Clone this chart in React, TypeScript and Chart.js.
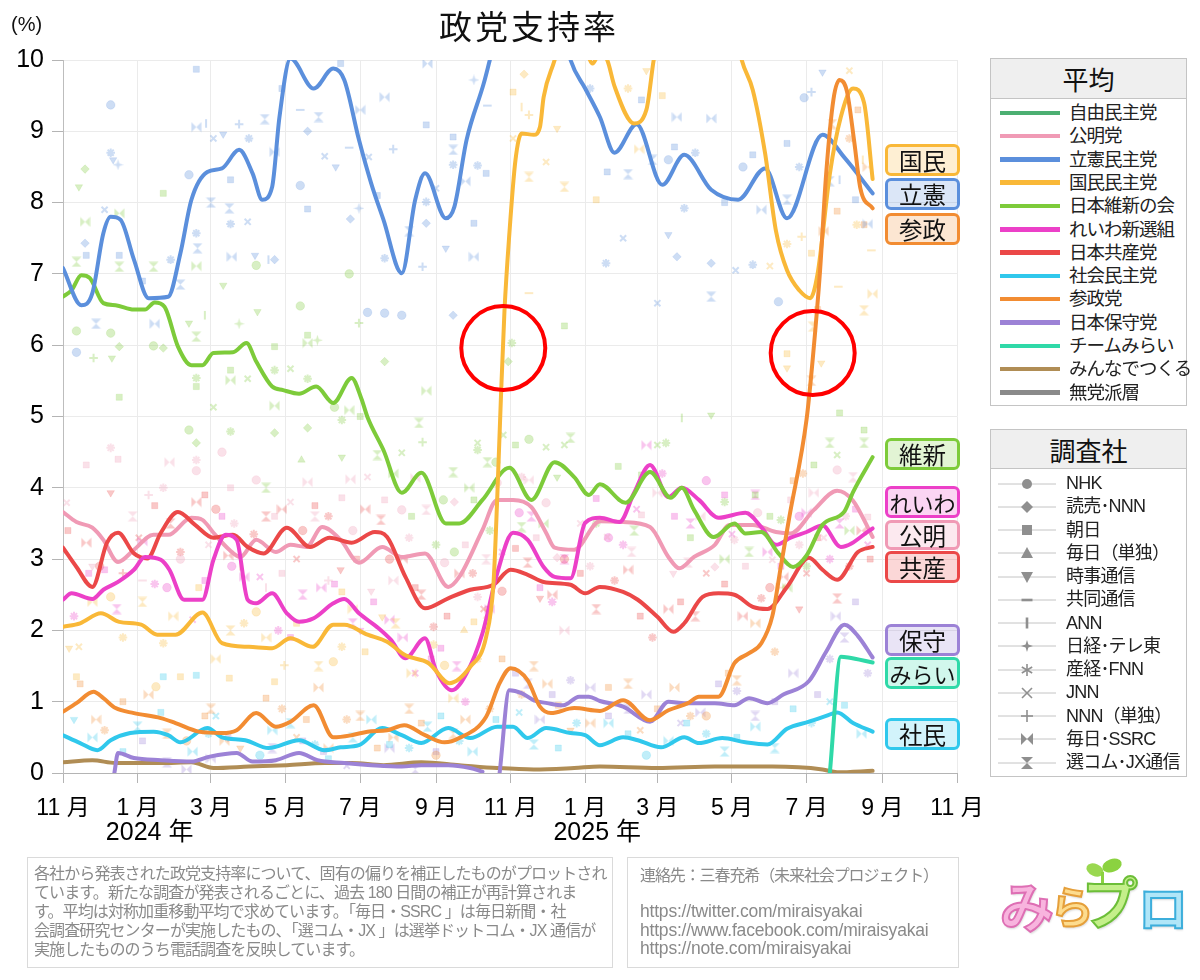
import React, { useEffect, useRef } from "react";
import { Chart, registerables } from "chart.js";

Chart.register(...registerables);

type Pt = [string, number | null];
type Poll = [string, number, number];

const FONT = '"Liberation Sans", "Noto Sans CJK JP", sans-serif';

// ---------- axis ----------
const X_START = "2023-11-01";
const X_END = "2025-11-01";
const tickDates = ["2023-11-01", "2024-01-01", "2024-03-01", "2024-05-01", "2024-07-01", "2024-09-01", "2024-11-01", "2025-01-01", "2025-03-01", "2025-05-01", "2025-07-01", "2025-09-01", "2025-11-01"];
const yearTickDates = ["2024-01-01", "2025-01-01"];
const yearTickText = ["2024 年", "2025 年"];
const Y_MIN = 0;
const Y_MAX = 10;

// ---------- parties ----------
const partyNames = ["自由民主党", "公明党", "立憲民主党", "国民民主党", "日本維新の会", "れいわ新選組", "日本共産党", "社会民主党", "参政党", "日本保守党", "チームみらい", "みんなでつくる", "無党派層"];
const partyColors = ["#4caf72", "#f09ab5", "#5b8fdc", "#f9b838", "#7dcb3a", "#ec40c8", "#eb4848", "#30c8ec", "#f28c32", "#9c82d6", "#2fd9a8", "#b08d55", "#8a8a8a"];

// ---------- pollsters ----------
const pollsters = ["NHK", "読売･NNN", "朝日", "毎日（単独）", "時事通信", "共同通信", "ANN", "日経･テレ東", "産経･FNN", "JNN", "NNN（単独）", "毎日･SSRC", "選コム･JX通信"];

// ---------- moving averages ----------
const cdpLine: Pt[] = [["2023-11-01", 7.08], ["2023-11-16", 6.56], ["2023-11-25", 6.73], ["2023-12-04", 7.57], ["2023-12-10", 7.8], ["2023-12-18", 7.76], ["2023-12-29", 7.2], ["2024-01-10", 6.66], ["2024-01-26", 6.68], ["2024-02-05", 7.29], ["2024-02-14", 8.04], ["2024-02-27", 8.43], ["2024-03-10", 8.48], ["2024-03-24", 8.74], ["2024-04-04", 8.41], ["2024-04-12", 8.04], ["2024-04-20", 8.22], ["2024-04-26", 9.2], ["2024-05-05", 10.02], ["2024-05-24", 9.6], ["2024-06-09", 9.88], ["2024-06-18", 9.72], ["2024-06-30", 8.88], ["2024-07-10", 8.27], ["2024-07-20", 7.76], ["2024-08-04", 7.01], ["2024-08-15", 8.04], ["2024-08-23", 8.41], ["2024-09-09", 7.78], ["2024-09-16", 7.94], ["2024-09-26", 8.88], ["2024-10-10", 9.67], ["2024-10-15", 10.0], ["2024-11-05", 11.4], ["2024-11-25", 11.6], ["2024-12-08", 10.9], ["2024-12-20", 10.0], ["2025-01-01", 9.6], ["2025-01-13", 9.2], ["2025-01-25", 8.7], ["2025-02-12", 9.1], ["2025-03-05", 8.25], ["2025-03-23", 8.67], ["2025-04-14", 8.18], ["2025-05-06", 8.04], ["2025-05-28", 8.48], ["2025-06-15", 7.78], ["2025-07-14", 8.95], ["2025-08-01", 8.63], ["2025-08-24", 8.13]];
const dppLine: Pt[] = [["2023-11-01", 2.05], ["2023-11-15", 2.1], ["2023-12-02", 2.24], ["2023-12-17", 2.12], ["2024-01-04", 2.08], ["2024-01-17", 1.94], ["2024-02-01", 1.94], ["2024-02-23", 2.25], ["2024-03-10", 1.82], ["2024-04-01", 1.77], ["2024-04-20", 1.75], ["2024-05-05", 1.89], ["2024-05-23", 1.77], ["2024-06-09", 2.08], ["2024-06-18", 2.08], ["2024-07-07", 1.94], ["2024-07-23", 1.84], ["2024-08-07", 1.65], ["2024-08-26", 1.54], ["2024-09-12", 1.26], ["2024-09-29", 1.49], ["2024-10-12", 1.91], ["2024-10-18", 2.66], ["2024-10-21", 3.83], ["2024-10-24", 5.23], ["2024-10-27", 6.49], ["2024-10-31", 7.57], ["2024-11-05", 8.6], ["2024-11-10", 8.97], ["2024-11-20", 8.95], ["2024-11-25", 9.06], ["2024-11-28", 9.48], ["2024-12-07", 10.0], ["2024-12-20", 10.8], ["2025-01-01", 10.2], ["2025-01-07", 9.95], ["2025-01-13", 10.1], ["2025-01-19", 10.0], ["2025-01-25", 9.63], ["2025-02-10", 9.11], ["2025-02-20", 9.3], ["2025-02-26", 10.0], ["2025-03-20", 12.0], ["2025-04-20", 11.6], ["2025-05-09", 10.0], ["2025-05-18", 9.58], ["2025-05-28", 8.7], ["2025-06-06", 7.6], ["2025-06-15", 7.05], ["2025-06-25", 6.77], ["2025-07-04", 6.66], ["2025-07-10", 7.0], ["2025-07-20", 8.4], ["2025-07-29", 9.2], ["2025-08-08", 9.6], ["2025-08-17", 9.4], ["2025-08-24", 8.33]];
const ishinLine: Pt[] = [["2023-11-01", 6.68], ["2023-11-08", 6.77], ["2023-11-16", 6.98], ["2023-11-23", 6.94], ["2023-12-04", 6.59], ["2023-12-14", 6.56], ["2023-12-29", 6.5], ["2024-01-07", 6.5], ["2024-01-15", 6.6], ["2024-01-23", 6.54], ["2024-02-03", 5.98], ["2024-02-14", 5.72], ["2024-02-23", 5.72], ["2024-03-03", 5.89], ["2024-03-19", 5.9], ["2024-03-30", 6.03], ["2024-04-07", 5.77], ["2024-04-20", 5.42], ["2024-04-29", 5.37], ["2024-05-12", 5.32], ["2024-05-26", 5.42], ["2024-06-09", 5.19], ["2024-06-24", 5.54], ["2024-07-02", 5.25], ["2024-07-07", 4.99], ["2024-07-20", 4.53], ["2024-08-04", 3.93], ["2024-08-20", 4.21], ["2024-09-09", 3.5], ["2024-09-20", 3.5], ["2024-10-09", 3.83], ["2024-10-31", 4.28], ["2024-11-18", 3.83], ["2024-12-07", 4.36], ["2024-12-23", 4.15], ["2025-01-04", 3.9], ["2025-01-13", 4.05], ["2025-02-03", 3.79], ["2025-02-23", 4.22], ["2025-03-12", 3.86], ["2025-03-21", 4.0], ["2025-03-31", 3.69], ["2025-04-16", 3.31], ["2025-05-03", 3.5], ["2025-05-12", 3.36], ["2025-05-25", 3.38], ["2025-06-08", 3.08], ["2025-06-20", 2.89], ["2025-07-01", 3.05], ["2025-07-14", 3.48], ["2025-08-01", 3.67], ["2025-08-08", 3.94], ["2025-08-24", 4.43]];
const komeiLine: Pt[] = [["2023-11-01", 3.66], ["2023-11-12", 3.52], ["2023-11-25", 3.44], ["2023-12-04", 3.27], ["2023-12-16", 2.96], ["2023-12-29", 3.13], ["2024-01-14", 3.34], ["2024-01-26", 3.34], ["2024-02-14", 3.58], ["2024-02-23", 3.55], ["2024-03-03", 3.37], ["2024-03-16", 3.13], ["2024-03-25", 3.03], ["2024-04-07", 3.27], ["2024-04-23", 3.1], ["2024-05-05", 3.2], ["2024-05-18", 3.17], ["2024-05-31", 3.45], ["2024-06-15", 3.27], ["2024-06-30", 2.95], ["2024-07-19", 3.17], ["2024-08-04", 3.03], ["2024-08-23", 3.08], ["2024-09-11", 2.61], ["2024-09-20", 2.75], ["2024-10-09", 3.41], ["2024-10-21", 3.83], ["2024-11-03", 3.83], ["2024-11-18", 3.73], ["2024-11-30", 3.37], ["2024-12-07", 3.16], ["2024-12-23", 3.13], ["2025-01-13", 3.53], ["2025-02-01", 3.52], ["2025-02-23", 3.45], ["2025-03-10", 3.03], ["2025-03-19", 2.87], ["2025-03-31", 3.03], ["2025-04-17", 3.2], ["2025-04-29", 3.48], ["2025-05-18", 3.48], ["2025-06-06", 3.38], ["2025-06-18", 3.36], ["2025-07-07", 3.69], ["2025-07-26", 3.96], ["2025-08-08", 3.82], ["2025-08-24", 3.31]];
const reiwaLine: Pt[] = [["2023-11-01", 2.43], ["2023-11-08", 2.52], ["2023-11-25", 2.44], ["2023-12-04", 2.57], ["2023-12-16", 2.68], ["2023-12-29", 2.85], ["2024-01-07", 3.03], ["2024-01-20", 2.99], ["2024-01-27", 2.85], ["2024-02-08", 2.43], ["2024-02-23", 2.43], ["2024-03-03", 2.99], ["2024-03-13", 3.34], ["2024-03-22", 3.27], ["2024-03-31", 2.43], ["2024-04-07", 2.38], ["2024-04-20", 2.52], ["2024-05-02", 2.24], ["2024-05-12", 2.12], ["2024-05-24", 2.17], ["2024-06-09", 2.38], ["2024-06-18", 2.44], ["2024-06-30", 2.24], ["2024-07-16", 2.03], ["2024-07-26", 1.87], ["2024-08-07", 1.61], ["2024-08-23", 1.89], ["2024-09-01", 1.44], ["2024-09-14", 1.16], ["2024-09-26", 1.4], ["2024-10-09", 1.96], ["2024-10-21", 2.8], ["2024-11-03", 3.37], ["2024-11-15", 3.27], ["2024-11-28", 2.89], ["2024-12-07", 2.75], ["2024-12-20", 2.73], ["2025-01-01", 3.51], ["2025-01-13", 3.58], ["2025-01-29", 3.52], ["2025-02-10", 3.93], ["2025-02-23", 4.32], ["2025-03-10", 3.87], ["2025-03-21", 4.0], ["2025-04-04", 3.83], ["2025-04-20", 3.58], ["2025-05-12", 3.65], ["2025-05-25", 3.45], ["2025-06-06", 3.2], ["2025-06-18", 3.3], ["2025-07-01", 3.38], ["2025-07-14", 3.47], ["2025-07-29", 3.17], ["2025-08-24", 3.43]];
const jcpLine: Pt[] = [["2023-11-01", 3.16], ["2023-11-12", 2.89], ["2023-11-25", 2.61], ["2023-12-07", 3.23], ["2023-12-16", 3.37], ["2023-12-29", 3.08], ["2024-01-09", 3.01], ["2024-01-20", 3.37], ["2024-02-03", 3.66], ["2024-02-17", 3.48], ["2024-03-03", 3.3], ["2024-03-19", 3.34], ["2024-03-31", 3.17], ["2024-04-13", 3.08], ["2024-05-02", 3.44], ["2024-05-21", 3.17], ["2024-06-06", 3.3], ["2024-06-24", 3.23], ["2024-07-13", 3.38], ["2024-07-23", 3.31], ["2024-08-07", 2.75], ["2024-08-23", 2.31], ["2024-09-11", 2.45], ["2024-09-29", 2.57], ["2024-10-18", 2.64], ["2024-11-01", 2.85], ["2024-11-15", 2.78], ["2024-11-28", 2.68], ["2024-12-20", 2.64], ["2025-01-01", 2.52], ["2025-01-13", 2.61], ["2025-02-01", 2.54], ["2025-02-13", 2.43], ["2025-03-01", 2.19], ["2025-03-14", 1.98], ["2025-03-23", 2.1], ["2025-04-07", 2.47], ["2025-04-20", 2.52], ["2025-05-03", 2.5], ["2025-05-18", 2.33], ["2025-05-30", 2.3], ["2025-06-15", 2.61], ["2025-07-03", 3.02], ["2025-07-14", 2.85], ["2025-07-26", 2.71], ["2025-08-12", 3.1], ["2025-08-24", 3.17]];
const sanseiLine: Pt[] = [["2023-11-01", 0.86], ["2023-11-12", 0.98], ["2023-11-26", 1.14], ["2023-12-04", 1.05], ["2023-12-14", 0.91], ["2023-12-29", 0.84], ["2024-01-20", 0.77], ["2024-02-01", 0.7], ["2024-02-20", 0.58], ["2024-03-10", 0.56], ["2024-03-22", 0.6], ["2024-04-07", 0.84], ["2024-04-23", 0.65], ["2024-05-05", 0.72], ["2024-05-24", 0.95], ["2024-06-09", 0.5], ["2024-06-24", 0.53], ["2024-07-07", 0.58], ["2024-07-23", 0.6], ["2024-08-06", 0.67], ["2024-08-23", 0.53], ["2024-09-08", 0.43], ["2024-09-20", 0.49], ["2024-10-12", 0.79], ["2024-10-23", 1.26], ["2024-11-01", 1.47], ["2024-11-15", 1.3], ["2024-11-25", 0.93], ["2024-12-04", 0.84], ["2024-12-23", 0.91], ["2025-01-13", 0.87], ["2025-02-01", 1.02], ["2025-02-23", 0.74], ["2025-03-10", 0.88], ["2025-03-26", 0.98], ["2025-04-04", 1.07], ["2025-04-20", 1.07], ["2025-05-03", 1.54], ["2025-05-15", 1.68], ["2025-05-25", 1.82], ["2025-06-03", 2.2], ["2025-06-10", 2.9], ["2025-06-17", 3.6], ["2025-07-01", 4.96], ["2025-07-06", 5.8], ["2025-07-12", 7.04], ["2025-07-17", 8.4], ["2025-07-23", 9.45], ["2025-07-28", 9.72], ["2025-08-03", 9.56], ["2025-08-09", 8.85], ["2025-08-14", 8.2], ["2025-08-24", 7.92]];
const hoshuLine: Pt[] = [["2023-12-13", 0], ["2023-12-16", 0.28], ["2023-12-29", 0.21], ["2024-01-20", 0.18], ["2024-02-14", 0.16], ["2024-02-29", 0.23], ["2024-03-22", 0.28], ["2024-04-04", 0.16], ["2024-04-23", 0.18], ["2024-05-12", 0.28], ["2024-05-27", 0.18], ["2024-06-18", 0.14], ["2024-07-10", 0.11], ["2024-08-04", 0.09], ["2024-08-20", 0.11], ["2024-09-11", 0.11], ["2024-09-29", 0.07], ["2024-10-09", 0.02], ["2024-10-15", null], ["2024-10-23", 0], ["2024-10-31", 1.16], ["2024-11-10", 1.12], ["2024-11-20", 1.02], ["2024-12-01", 0.98], ["2024-12-14", 0.95], ["2024-12-27", 1.07], ["2025-01-04", 1.07], ["2025-01-13", 1.01], ["2025-02-01", 0.93], ["2025-02-23", 0.72], ["2025-03-10", 1.0], ["2025-03-23", 0.98], ["2025-04-17", 0.98], ["2025-05-03", 0.95], ["2025-05-15", 1.05], ["2025-05-30", 0.98], ["2025-06-12", 1.1], ["2025-07-03", 1.29], ["2025-07-17", 1.7], ["2025-08-01", 2.08], ["2025-08-12", 1.92], ["2025-08-24", 1.62]];
const shaminLine: Pt[] = [["2023-11-01", 0.53], ["2023-11-15", 0.42], ["2023-11-29", 0.32], ["2023-12-10", 0.46], ["2023-12-26", 0.56], ["2024-01-14", 0.58], ["2024-01-26", 0.53], ["2024-02-05", 0.43], ["2024-02-27", 0.63], ["2024-03-10", 0.5], ["2024-03-29", 0.46], ["2024-04-17", 0.35], ["2024-05-12", 0.46], ["2024-06-02", 0.32], ["2024-06-15", 0.36], ["2024-06-30", 0.39], ["2024-07-19", 0.63], ["2024-08-04", 0.53], ["2024-08-20", 0.42], ["2024-09-11", 0.63], ["2024-09-29", 0.49], ["2024-10-21", 0.65], ["2024-11-03", 0.65], ["2024-11-15", 0.49], ["2024-11-30", 0.63], ["2024-12-20", 0.56], ["2025-01-01", 0.53], ["2025-01-13", 0.39], ["2025-02-01", 0.5], ["2025-02-13", 0.46], ["2025-03-04", 0.36], ["2025-03-23", 0.5], ["2025-04-04", 0.42], ["2025-04-23", 0.49], ["2025-05-12", 0.43], ["2025-05-30", 0.4], ["2025-06-15", 0.62], ["2025-07-03", 0.72], ["2025-07-17", 0.8], ["2025-07-26", 0.85], ["2025-08-08", 0.7], ["2025-08-24", 0.58]];
const miraiLine: Pt[] = [["2025-07-20", 0], ["2025-07-29", 1.63], ["2025-08-04", 1.62], ["2025-08-24", 1.55]];
const minnaLine: Pt[] = [["2023-11-01", 0.15], ["2023-11-25", 0.18], ["2023-12-14", 0.14], ["2024-01-20", 0.14], ["2024-02-14", 0.15], ["2024-03-03", 0.07], ["2024-04-01", 0.09], ["2024-05-02", 0.11], ["2024-06-02", 0.14], ["2024-06-24", 0.14], ["2024-07-20", 0.11], ["2024-08-20", 0.15], ["2024-09-20", 0.11], ["2024-10-21", 0.07], ["2024-11-20", 0.05], ["2024-12-23", 0.07], ["2025-01-13", 0.09], ["2025-03-01", 0.07], ["2025-04-17", 0.09], ["2025-06-03", 0.09], ["2025-07-14", 0.05], ["2025-07-26", 0.01], ["2025-08-24", 0.03]];

// ---------- individual (corrected) polls: [date, value, pollster] ----------
const cdpPolls: Poll[] = [["2023-11-12", 5.9, 0], ["2023-11-19", 7.43, 1], ["2023-11-20", 7.26, 2], ["2023-11-28", 6.3, 12], ["2023-12-05", 7.9, 9], ["2023-12-10", 9.37, 0], ["2023-12-10", 8.7, 8], ["2023-12-12", 8.6, 4], ["2023-12-16", 8.53, 7], ["2023-12-17", 7.26, 2], ["2024-01-05", 6.9, 2], ["2024-01-15", 6.3, 11], ["2024-01-28", 7.2, 8], ["2024-02-05", 6.85, 12], ["2024-02-12", 8.39, 0], ["2024-02-18", 9.87, 2], ["2024-02-18", 9.06, 11], ["2024-02-18", 7.57, 8], ["2024-02-19", 7.36, 12], ["2024-02-26", 9.11, 6], ["2024-03-01", 8.0, 12], ["2024-03-03", 8.9, 9], ["2024-03-11", 8.96, 4], ["2024-03-16", 7.92, 12], ["2024-03-17", 8.32, 2], ["2024-03-17", 7.7, 8], ["2024-03-18", 7.24, 11], ["2024-03-24", 9.1, 10], ["2024-03-31", 7.73, 9], ["2024-04-01", 8.9, 8], ["2024-04-06", 7.26, 4], ["2024-04-14", 9.17, 12], ["2024-04-17", 7.2, 6], ["2024-04-22", 8.71, 11], ["2024-04-22", 7.2, 1], ["2024-04-28", 9.6, 2], ["2024-05-13", 8.24, 0], ["2024-05-13", 9.3, 5], ["2024-05-19", 9.0, 1], ["2024-05-19", 7.91, 2], ["2024-05-28", 9.2, 12], ["2024-06-02", 8.65, 9], ["2024-06-11", 8.5, 4], ["2024-06-15", 9.95, 2], ["2024-06-22", 8.77, 5], ["2024-06-23", 7.77, 1], ["2024-06-30", 7.92, 7], ["2024-07-01", 9.3, 11], ["2024-07-07", 6.46, 0], ["2024-07-08", 8.64, 9], ["2024-07-15", 8.1, 2], ["2024-07-21", 6.45, 0], ["2024-07-21", 9.48, 11], ["2024-07-21", 7.22, 8], ["2024-07-28", 8.75, 10], ["2024-08-04", 6.42, 0], ["2024-08-10", 7.6, 12], ["2024-08-21", 7.1, 10], ["2024-08-24", 9.09, 2], ["2024-08-24", 8.01, 8], ["2024-08-24", 7.71, 1], ["2024-08-25", 9.95, 11], ["2024-09-01", 8.2, 9], ["2024-09-09", 7.36, 4], ["2024-09-15", 6.42, 1], ["2024-09-15", 8.92, 2], ["2024-09-15", 8.53, 8], ["2024-09-15", 8.74, 12], ["2024-09-25", 8.3, 11], ["2024-10-02", 7.24, 11], ["2024-10-02", 7.71, 2], ["2024-10-02", 9.72, 7], ["2024-10-05", 8.52, 8], ["2024-10-12", 8.41, 2], ["2024-10-13", 9.36, 5], ["2025-01-05", 9.6, 8], ["2025-01-18", 7.15, 8], ["2025-01-19", 8.43, 2], ["2025-02-01", 7.5, 9], ["2025-02-05", 8.4, 12], ["2025-02-16", 9.44, 2], ["2025-02-25", 8.6, 12], ["2025-03-01", 6.59, 9], ["2025-03-10", 8.6, 0], ["2025-03-10", 7.55, 4], ["2025-03-15", 8.78, 2], ["2025-03-17", 9.2, 11], ["2025-03-17", 7.24, 1], ["2025-03-23", 7.92, 8], ["2025-04-01", 8.7, 8], ["2025-04-14", 9.18, 11], ["2025-04-14", 7.15, 1], ["2025-04-14", 6.68, 12], ["2025-04-25", 8.0, 2], ["2025-05-04", 7.05, 9], ["2025-05-10", 8.5, 0], ["2025-05-18", 8.67, 2], ["2025-05-18", 7.13, 8], ["2025-05-25", 7.9, 11], ["2025-06-08", 6.61, 0], ["2025-06-15", 8.83, 2], ["2025-06-15", 8.04, 12], ["2025-06-25", 8.5, 8], ["2025-06-29", 9.47, 0], ["2025-07-05", 9.55, 10], ["2025-07-14", 9.83, 4], ["2025-07-20", 8.3, 12], ["2025-07-28", 8.32, 6], ["2025-08-10", 8.04, 2], ["2025-08-20", 7.7, 11]];
const ishinPolls: Poll[] = [["2023-11-19", 8.47, 1], ["2023-11-14", 8.22, 4], ["2024-01-22", 8.13, 2], ["2023-11-19", 7.73, 11], ["2023-11-12", 7.17, 12], ["2023-12-17", 7.85, 11], ["2023-12-17", 7.1, 12], ["2024-01-14", 7.1, 12], ["2024-02-18", 7.11, 11], ["2024-03-11", 6.84, 4], ["2024-04-07", 7.12, 0], ["2024-06-22", 7.0, 0], ["2024-05-13", 6.55, 0], ["2024-04-08", 6.47, 4], ["2023-11-12", 6.2, 0], ["2023-12-10", 6.17, 0], ["2023-12-17", 5.98, 1], ["2023-12-11", 5.82, 4], ["2023-11-26", 5.82, 10], ["2024-01-14", 5.99, 0], ["2024-01-22", 5.96, 1], ["2024-02-18", 6.12, 12], ["2024-02-12", 6.31, 4], ["2024-02-25", 6.42, 6], ["2024-03-24", 6.3, 7], ["2024-04-22", 5.98, 2], ["2024-05-19", 6.14, 2], ["2024-05-19", 6.03, 11], ["2024-05-27", 6.07, 7], ["2024-06-30", 6.31, 10], ["2024-07-21", 5.77, 1], ["2024-08-24", 5.36, 11], ["2024-12-15", 6.27, 2], ["2024-11-02", 6.03, 8], ["2024-10-30", 5.77, 1], ["2024-02-18", 5.42, 2], ["2024-02-18", 5.54, 8], ["2024-03-17", 5.65, 2], ["2024-03-17", 5.51, 11], ["2024-03-31", 5.53, 9], ["2024-04-22", 5.65, 8], ["2024-05-05", 5.67, 9], ["2024-04-22", 5.15, 11], ["2024-05-19", 5.53, 8], ["2024-06-10", 5.13, 0], ["2024-06-22", 5.09, 11], ["2024-03-03", 5.13, 9], ["2023-12-17", 5.27, 2], ["2024-02-12", 4.81, 0], ["2024-02-18", 4.63, 1], ["2024-03-17", 4.79, 8], ["2024-04-22", 4.77, 1], ["2024-05-19", 4.84, 1], ["2024-06-16", 4.95, 8], ["2024-06-16", 4.43, 4], ["2024-05-14", 4.39, 3], ["2024-04-15", 4.0, 12], ["2024-07-01", 5.0, 2], ["2024-07-15", 4.46, 12], ["2024-07-28", 4.2, 11], ["2024-08-04", 4.49, 9], ["2024-08-12", 3.6, 2], ["2024-08-18", 4.91, 12], ["2024-08-21", 4.64, 10], ["2024-09-01", 3.2, 8], ["2024-09-07", 3.83, 0], ["2024-09-15", 4.22, 12], ["2024-09-28", 4.0, 11], ["2024-10-02", 3.83, 2], ["2024-10-05", 4.53, 8], ["2024-10-05", 4.63, 9], ["2024-10-13", 4.36, 12], ["2024-10-15", 3.4, 8], ["2024-10-20", 4.36, 0], ["2024-10-26", 4.74, 9], ["2024-11-05", 4.6, 2], ["2024-11-16", 4.68, 0], ["2024-11-28", 3.5, 11], ["2024-11-30", 4.57, 9], ["2024-12-15", 4.6, 9], ["2024-12-09", 4.15, 4], ["2024-12-20", 4.7, 12], ["2024-11-10", 3.45, 12], ["2024-09-16", 3.1, 0], ["2025-01-10", 3.5, 8], ["2025-01-28", 4.3, 2], ["2025-02-10", 3.4, 12], ["2025-02-16", 4.18, 2], ["2025-03-01", 4.6, 9], ["2025-03-08", 4.63, 8], ["2025-03-21", 4.98, 6], ["2025-03-28", 3.3, 2], ["2025-04-14", 5.02, 4], ["2025-04-25", 3.0, 11], ["2025-04-25", 3.8, 8], ["2025-05-15", 3.1, 12], ["2025-05-20", 3.9, 2], ["2025-06-01", 3.6, 2], ["2025-06-10", 3.55, 8], ["2025-06-15", 2.6, 11], ["2025-07-01", 2.9, 8], ["2025-07-07", 4.32, 2], ["2025-07-20", 4.63, 12], ["2025-07-26", 4.46, 9], ["2025-07-28", 5.05, 2], ["2025-08-05", 3.4, 11], ["2025-08-17", 4.81, 2], ["2025-08-17", 4.63, 12]];
const dppPolls: Poll[] = [["2023-11-06", 1.75, 4], ["2023-11-14", 1.77, 9], ["2023-11-12", 1.35, 2], ["2023-11-25", 2.4, 11], ["2023-12-10", 2.47, 0], ["2023-12-20", 1.9, 8], ["2024-01-05", 2.4, 12], ["2024-01-16", 1.21, 0], ["2024-01-22", 1.82, 8], ["2024-01-30", 2.2, 11], ["2024-02-05", 1.35, 2], ["2024-02-20", 2.6, 2], ["2024-03-05", 1.6, 11], ["2024-03-16", 1.33, 2], ["2024-03-17", 2.0, 12], ["2024-03-28", 2.1, 8], ["2024-04-07", 2.26, 0], ["2024-04-15", 1.9, 11], ["2024-04-22", 1.28, 2], ["2024-04-30", 1.51, 10], ["2024-05-10", 2.1, 2], ["2024-05-28", 1.5, 12], ["2024-06-09", 1.56, 0], ["2024-06-16", 1.77, 8], ["2024-06-16", 2.54, 2], ["2024-06-25", 2.3, 11], ["2024-07-05", 1.7, 2], ["2024-07-19", 2.19, 4], ["2024-07-30", 2.1, 12], ["2024-08-12", 1.4, 11], ["2024-08-30", 1.8, 8], ["2024-09-08", 1.51, 0], ["2024-09-15", 1.05, 11], ["2024-09-24", 2.0, 3], ["2024-10-02", 2.12, 2], ["2024-10-05", 1.6, 8], ["2024-10-13", 2.24, 12], ["2024-11-03", 9.55, 2], ["2024-11-03", 8.9, 9], ["2024-11-10", 9.34, 6], ["2024-11-12", 9.8, 1], ["2024-11-16", 9.23, 10], ["2024-11-16", 8.36, 12], ["2024-11-16", 6.73, 5], ["2024-11-30", 8.57, 9], ["2024-12-09", 9.04, 4], ["2024-12-15", 8.22, 12], ["2025-01-10", 8.04, 2], ["2025-02-05", 9.6, 8], ["2025-02-14", 8.75, 11], ["2025-02-20", 9.85, 4], ["2025-03-05", 9.5, 2], ["2025-06-01", 7.11, 9], ["2025-06-15", 7.42, 8], ["2025-06-15", 5.88, 2], ["2025-06-15", 5.68, 4], ["2025-06-27", 7.52, 10], ["2025-07-05", 7.29, 2], ["2025-07-06", 6.26, 12], ["2025-07-13", 5.75, 4], ["2025-07-27", 6.82, 5], ["2025-08-05", 9.85, 9], ["2025-08-11", 7.69, 8], ["2025-08-16", 8.6, 6], ["2025-08-17", 6.49, 12], ["2025-08-23", 7.33, 5], ["2025-08-24", 6.72, 11]];
const komeiPolls: Poll[] = [["2023-11-04", 3.79, 9], ["2023-11-20", 4.32, 2], ["2023-11-25", 2.9, 4], ["2023-12-10", 4.56, 8], ["2023-12-16", 4.4, 2], ["2023-12-28", 3.6, 12], ["2024-01-05", 2.7, 5], ["2024-01-10", 3.9, 10], ["2024-01-22", 4.0, 8], ["2024-01-27", 4.36, 11], ["2024-02-05", 3.0, 0], ["2024-02-18", 4.39, 8], ["2024-02-18", 4.24, 0], ["2024-02-28", 3.2, 9], ["2024-03-10", 4.5, 0], ["2024-03-17", 4.0, 2], ["2024-03-20", 3.5, 8], ["2024-04-07", 4.11, 0], ["2024-04-15", 2.6, 6], ["2024-04-22", 3.6, 2], ["2024-04-28", 2.8, 2], ["2024-05-05", 3.8, 9], ["2024-05-19", 4.08, 11], ["2024-05-25", 3.6, 12], ["2024-06-05", 2.7, 10], ["2024-06-16", 3.86, 2], ["2024-06-23", 4.12, 11], ["2024-06-25", 3.4, 0], ["2024-07-07", 4.15, 9], ["2024-07-10", 2.55, 4], ["2024-07-21", 3.83, 2], ["2024-07-28", 2.7, 11], ["2024-08-04", 3.69, 0], ["2024-08-10", 3.3, 8], ["2024-08-15", 4.14, 11], ["2024-08-24", 3.69, 12], ["2024-09-08", 2.95, 0], ["2024-09-16", 3.8, 1], ["2024-09-25", 3.2, 2], ["2024-10-05", 2.47, 8], ["2024-10-12", 3.0, 12], ["2024-10-21", 4.07, 0], ["2024-11-10", 4.15, 8], ["2024-11-16", 4.11, 11], ["2024-11-22", 3.3, 2], ["2024-11-30", 3.79, 0], ["2024-12-09", 3.02, 1], ["2024-12-15", 2.0, 11], ["2024-12-28", 3.5, 9], ["2025-01-05", 2.9, 8], ["2025-01-19", 3.31, 9], ["2025-02-08", 3.1, 12], ["2025-02-16", 3.62, 2], ["2025-03-01", 3.93, 11], ["2025-03-14", 2.8, 4], ["2025-03-26", 2.95, 12], ["2025-04-05", 3.6, 11], ["2025-04-17", 2.89, 1], ["2025-05-03", 3.27, 8], ["2025-05-12", 2.9, 2], ["2025-05-22", 3.65, 0], ["2025-06-03", 2.99, 9], ["2025-06-18", 3.83, 2], ["2025-06-25", 3.2, 8], ["2025-07-07", 3.93, 11], ["2025-07-15", 3.3, 9], ["2025-07-26", 4.25, 0], ["2025-08-02", 3.6, 8], ["2025-08-08", 4.15, 12], ["2025-08-20", 3.59, 2]];
const reiwaPolls: Poll[] = [["2023-11-10", 2.2, 8], ["2023-11-22", 2.8, 2], ["2023-12-05", 2.85, 2], ["2023-12-15", 2.3, 12], ["2024-01-05", 3.25, 11], ["2024-01-15", 2.65, 8], ["2024-01-25", 2.6, 0], ["2024-02-15", 2.15, 9], ["2024-02-25", 2.7, 2], ["2024-03-10", 3.6, 2], ["2024-03-18", 2.9, 0], ["2024-03-28", 2.75, 11], ["2024-04-10", 2.75, 9], ["2024-04-25", 2.0, 8], ["2024-05-05", 1.9, 2], ["2024-05-15", 2.5, 12], ["2024-05-30", 2.6, 11], ["2024-06-10", 2.65, 2], ["2024-06-25", 2.1, 12], ["2024-07-01", 2.0, 4], ["2024-07-12", 2.4, 2], ["2024-07-25", 2.15, 11], ["2024-08-05", 1.9, 11], ["2024-08-15", 1.4, 9], ["2024-08-28", 1.6, 2], ["2024-09-05", 1.75, 2], ["2024-09-18", 1.5, 12], ["2024-09-25", 1.0, 8], ["2024-10-15", 2.3, 11], ["2024-10-25", 3.1, 9], ["2024-11-08", 3.65, 0], ["2024-11-18", 3.6, 12], ["2024-11-25", 2.6, 2], ["2024-12-05", 2.4, 8], ["2024-12-15", 3.0, 12], ["2025-01-10", 3.85, 2], ["2025-01-20", 3.3, 0], ["2025-02-01", 3.2, 8], ["2025-02-12", 3.7, 9], ["2025-02-20", 4.6, 11], ["2025-03-05", 4.2, 8], ["2025-03-15", 3.6, 2], ["2025-03-28", 3.5, 12], ["2025-04-10", 4.1, 0], ["2025-04-25", 3.9, 2], ["2025-05-01", 3.35, 9], ["2025-05-20", 3.9, 12], ["2025-05-30", 3.1, 11], ["2025-06-10", 2.9, 2], ["2025-06-25", 3.6, 0], ["2025-07-01", 3.65, 11], ["2025-07-20", 3.0, 8], ["2025-07-28", 3.5, 12], ["2025-08-10", 3.7, 2], ["2025-08-20", 3.2, 9]];
const jcpPolls: Poll[] = [["2023-11-05", 3.4, 2], ["2023-11-20", 3.23, 11], ["2023-12-01", 2.9, 0], ["2023-12-10", 3.93, 4], ["2023-12-20", 2.8, 10], ["2024-01-02", 3.3, 9], ["2024-01-15", 3.75, 2], ["2024-01-28", 3.5, 12], ["2024-02-05", 3.1, 8], ["2024-02-18", 3.8, 11], ["2024-02-25", 3.9, 2], ["2024-03-05", 3.7, 0], ["2024-03-15", 3.05, 11], ["2024-03-25", 2.9, 6], ["2024-04-05", 3.35, 8], ["2024-04-15", 3.6, 12], ["2024-04-28", 3.7, 11], ["2024-05-10", 3.0, 9], ["2024-05-15", 3.4, 0], ["2024-05-25", 3.75, 2], ["2024-06-05", 3.6, 8], ["2024-06-15", 2.85, 4], ["2024-06-28", 3.0, 2], ["2024-07-05", 3.7, 11], ["2024-07-18", 3.55, 12], ["2024-07-25", 3.0, 0], ["2024-08-05", 3.0, 11], ["2024-08-15", 2.6, 2], ["2024-08-20", 2.5, 12], ["2024-08-30", 2.05, 8], ["2024-09-10", 2.2, 2], ["2024-09-20", 2.8, 11], ["2024-10-01", 2.8, 8], ["2024-10-10", 2.3, 9], ["2024-10-25", 2.55, 0], ["2024-11-05", 3.15, 2], ["2024-11-15", 2.95, 12], ["2024-11-25", 2.45, 4], ["2024-12-05", 2.5, 11], ["2024-12-15", 3.0, 0], ["2024-12-28", 2.8, 2], ["2025-01-10", 2.3, 12], ["2025-01-25", 2.7, 8], ["2025-02-05", 2.85, 11], ["2025-02-15", 2.2, 2], ["2025-02-25", 1.9, 8], ["2025-03-10", 2.3, 11], ["2025-03-20", 2.4, 2], ["2025-04-01", 2.2, 12], ["2025-04-10", 2.8, 9], ["2025-04-25", 2.65, 2], ["2025-05-10", 2.2, 11], ["2025-05-25", 2.45, 8], ["2025-06-01", 2.6, 0], ["2025-06-12", 2.75, 11], ["2025-06-25", 2.3, 4], ["2025-07-01", 2.8, 9], ["2025-07-10", 3.3, 2], ["2025-07-26", 2.45, 12], ["2025-08-05", 2.9, 8], ["2025-08-15", 3.4, 11], ["2025-08-22", 3.0, 2]];
const sanseiPolls: Poll[] = [["2023-11-15", 1.25, 2], ["2023-11-28", 0.75, 11], ["2023-12-05", 0.6, 8], ["2023-12-20", 1.0, 2], ["2024-01-10", 1.1, 11], ["2024-01-25", 0.55, 12], ["2024-02-10", 0.45, 0], ["2024-02-25", 0.8, 2], ["2024-03-01", 0.9, 12], ["2024-03-12", 0.45, 11], ["2024-03-25", 0.35, 4], ["2024-04-15", 1.05, 2], ["2024-04-28", 0.9, 8], ["2024-05-10", 0.5, 9], ["2024-05-18", 0.75, 2], ["2024-05-28", 1.2, 11], ["2024-06-05", 0.35, 11], ["2024-06-20", 0.75, 8], ["2024-07-01", 0.8, 12], ["2024-07-15", 0.35, 2], ["2024-07-28", 0.5, 11], ["2024-08-10", 0.9, 12], ["2024-08-20", 0.7, 2], ["2024-09-01", 0.25, 0], ["2024-09-15", 0.55, 12], ["2024-09-25", 0.75, 11], ["2024-10-15", 0.9, 8], ["2024-10-25", 1.6, 2], ["2024-11-10", 1.1, 8], ["2024-11-20", 1.5, 12], ["2024-12-01", 1.25, 11], ["2024-12-10", 0.95, 2], ["2024-12-20", 0.6, 4], ["2025-01-05", 0.7, 11], ["2025-01-20", 1.2, 2], ["2025-02-05", 1.25, 12], ["2025-02-15", 0.6, 9], ["2025-03-01", 0.9, 2], ["2025-03-15", 1.2, 11], ["2025-03-28", 0.8, 8], ["2025-04-10", 0.8, 0], ["2025-04-28", 1.4, 2], ["2025-05-05", 1.3, 12], ["2025-05-20", 2.1, 11], ["2025-06-05", 1.7, 8], ["2025-06-10", 2.6, 11], ["2025-06-20", 4.1, 2], ["2025-06-28", 4.2, 8], ["2025-07-05", 5.5, 12], ["2025-07-10", 6.5, 2], ["2025-07-15", 7.6, 11], ["2025-07-22", 9.1, 12], ["2025-07-26", 7.88, 2], ["2025-08-05", 8.9, 8], ["2025-08-12", 9.3, 2], ["2025-08-17", 7.69, 2], ["2025-08-20", 8.5, 11]];
const shaminPolls: Poll[] = [["2023-11-10", 0.75, 4], ["2023-11-25", 0.5, 11], ["2023-12-20", 0.3, 2], ["2024-01-01", 0.65, 12], ["2024-01-20", 0.85, 2], ["2024-01-22", 1.35, 2], ["2024-02-15", 0.3, 11], ["2024-02-18", 1.37, 2], ["2024-02-28", 0.55, 8], ["2024-03-05", 0.8, 9], ["2024-04-10", 0.25, 0], ["2024-04-20", 0.6, 11], ["2024-05-05", 0.7, 12], ["2024-05-25", 0.4, 8], ["2024-06-05", 0.2, 2], ["2024-06-25", 0.5, 12], ["2024-07-10", 0.75, 11], ["2024-07-25", 0.4, 2], ["2024-08-10", 0.35, 8], ["2024-08-25", 0.65, 12], ["2024-09-05", 0.8, 2], ["2024-09-20", 0.45, 8], ["2024-10-01", 0.3, 11], ["2024-10-20", 0.75, 2], ["2024-11-08", 0.85, 9], ["2024-11-20", 0.4, 12], ["2024-12-10", 0.35, 2], ["2024-12-25", 0.7, 8], ["2025-01-20", 0.7, 11], ["2025-02-05", 0.55, 2], ["2025-02-20", 0.25, 0], ["2025-03-10", 0.45, 11], ["2025-03-25", 0.7, 2], ["2025-04-10", 0.55, 8], ["2025-04-25", 0.3, 12], ["2025-05-05", 0.5, 2], ["2025-05-20", 0.65, 11], ["2025-06-05", 0.35, 12], ["2025-06-20", 0.9, 2], ["2025-07-05", 0.7, 8], ["2025-07-20", 1.0, 9], ["2025-08-01", 0.95, 2], ["2025-08-15", 0.55, 11]];
const hoshuPolls: Poll[] = [["2024-01-05", 0.45, 2], ["2024-01-25", 0.15, 12], ["2024-02-10", 0.05, 11], ["2024-03-01", 0.2, 11], ["2024-03-15", 0.5, 8], ["2024-04-20", 0.35, 12], ["2024-05-15", 0.45, 2], ["2024-06-01", 0.3, 2], ["2024-06-20", 0.1, 9], ["2024-07-25", 0.35, 11], ["2024-08-15", 0.05, 12], ["2024-09-01", 0.3, 2], ["2024-11-05", 1.4, 2], ["2024-11-15", 1.25, 12], ["2024-11-25", 0.75, 11], ["2024-12-05", 1.1, 2], ["2024-12-20", 1.3, 8], ["2025-01-05", 1.2, 11], ["2025-01-20", 0.8, 2], ["2025-02-05", 0.9, 12], ["2025-02-20", 1.1, 11], ["2025-03-20", 0.7, 9], ["2025-04-05", 0.85, 11], ["2025-04-20", 1.25, 2], ["2025-05-05", 1.15, 8], ["2025-05-20", 0.8, 12], ["2025-06-05", 1.0, 2], ["2025-06-20", 1.4, 11], ["2025-07-10", 1.1, 2], ["2025-07-20", 1.6, 8], ["2025-07-25", 2.2, 11], ["2025-08-01", 1.9, 12], ["2025-08-10", 2.4, 2], ["2025-08-20", 1.4, 8]];

// ---------- annotations (red circles, in data units) ----------
const circleDates = ["2024-10-26", "2025-07-06"];
const circleValues = [5.96, 5.89];

// ---------- right-hand tags ----------
const tagNames = ["国民", "立憲", "参政", "維新", "れいわ", "公明", "共産", "保守", "みらい", "社民"];
const tagParty = [3, 2, 8, 4, 5, 1, 6, 9, 10, 7];

// ---------- notes ----------
const noteLines = [
  "各社から発表された政党支持率について、固有の偏りを補正したものがプロットされ",
  "ています。新たな調査が発表されるごとに、過去 180 日間の補正が再計算されま",
  "す。平均は対称加重移動平均で求めています。「毎日・SSRC 」は毎日新聞・社",
  "会調査研究センターが実施したもの、「選コム・JX 」は選挙ドットコム・JX 通信が",
  "実施したもののうち電話調査を反映しています。",
];
const contactTitle = "連絡先：三春充希（未来社会プロジェクト）";
const contactLinks = ["https://twitter.com/miraisyakai", "https://www.facebook.com/miraisyakai", "https://note.com/miraisyakai"];

// ---------- helpers ----------
const DAY0 = (() => { const [y, m, d] = X_START.split("-").map(Number); return Date.UTC(y, m - 1, d); })();
const dayOf = (s: string) => { const [y, m, d] = s.split("-").map(Number); return Math.round((Date.UTC(y, m - 1, d) - DAY0) / 86400000); };
const tickDays = tickDates.map(dayOf);

function rgba(hex: string, a: number) {
  const n = parseInt(hex.slice(1), 16);
  return `rgba(${(n >> 16) & 255},${(n >> 8) & 255},${n & 255},${a})`;
}

const orgStyle = ["circle", "rectRot", "rect", "triangle", "triangle", "line", "line", "nikkei", "star", "crossRot", "cross", "bowtie", "hourglass"];
const orgRotation = [0, 0, 0, 0, 180, 0, 90, 0, 0, 0, 0, 0, 0];
const strokeOnly = ["line", "star", "crossRot", "cross"];

const markerCache: Record<string, HTMLCanvasElement> = {};
function customMarker(kind: string, color: string) {
  const key = kind + color;
  if (markerCache[key]) return markerCache[key];
  const c = document.createElement("canvas");
  c.width = 11; c.height = 11;
  const g = c.getContext("2d")!;
  g.fillStyle = color;
  g.beginPath();
  if (kind === "bowtie") {
    g.moveTo(0.5, 0.5); g.lineTo(5.5, 5.5); g.lineTo(0.5, 10.5); g.closePath();
    g.moveTo(10.5, 0.5); g.lineTo(5.5, 5.5); g.lineTo(10.5, 10.5); g.closePath();
  } else if (kind === "hourglass") {
    g.moveTo(0.5, 0.5); g.lineTo(10.5, 0.5); g.lineTo(5.5, 5.5); g.closePath();
    g.moveTo(0.5, 10.5); g.lineTo(10.5, 10.5); g.lineTo(5.5, 5.5); g.closePath();
  } else {
    g.moveTo(5.5, 0); g.lineTo(6.8, 4.2); g.lineTo(11, 5.5); g.lineTo(6.8, 6.8); g.lineTo(5.5, 11); g.lineTo(4.2, 6.8); g.lineTo(0, 5.5); g.lineTo(4.2, 4.2); g.closePath();
  }
  g.fill();
  markerCache[key] = c;
  return c;
}

function LegendMarker({ org }: { org: number }) {
  const s = orgStyle[org];
  const f = "#8f8f8f";
  const rot = orgRotation[org];
  let shape: any = null;
  if (s === "circle") shape = <circle r={5} fill={f} />;
  else if (s === "rectRot") shape = <polygon points="0,-6 6,0 0,6 -6,0" fill={f} />;
  else if (s === "rect") shape = <rect x={-5} y={-5} width={10} height={10} fill={f} />;
  else if (s === "triangle") shape = <polygon points="0,-6 6,5 -6,5" fill={f} transform={`rotate(${rot})`} />;
  else if (s === "line") shape = <rect x={-5.5} y={-1.3} width={11} height={2.6} fill={f} transform={`rotate(${rot})`} />;
  else if (s === "nikkei") shape = <polygon points="0,-6 1.4,-1.4 6,0 1.4,1.4 0,6 -1.4,1.4 -6,0 -1.4,-1.4" fill={f} />;
  else if (s === "star") shape = <g stroke={f} strokeWidth={1.6}><line x1={0} y1={-6} x2={0} y2={6} /><line x1={-5.2} y1={-3} x2={5.2} y2={3} /><line x1={-5.2} y1={3} x2={5.2} y2={-3} /></g>;
  else if (s === "crossRot") shape = <g stroke={f} strokeWidth={1.6}><line x1={-5} y1={-5} x2={5} y2={5} /><line x1={-5} y1={5} x2={5} y2={-5} /></g>;
  else if (s === "cross") shape = <g stroke={f} strokeWidth={1.6}><line x1={0} y1={-6} x2={0} y2={6} /><line x1={-6} y1={0} x2={6} y2={0} /></g>;
  else if (s === "bowtie") shape = <g fill={f}><polygon points="-6,-6 0,0 -6,6" /><polygon points="6,-6 0,0 6,6" /></g>;
  else if (s === "hourglass") shape = <g fill={f}><polygon points="-6,-6 6,-6 0,0" /><polygon points="-6,6 6,6 0,0" /></g>;
  return (
    <svg width={60} height={20} style={{ position: "absolute", left: 0, top: 0 }}>
      <line x1={0} y1={10} x2={58} y2={10} stroke="#c4c4c4" strokeWidth={1} />
      <g transform="translate(29,10)">{shape}</g>
    </svg>
  );
}

const circlePlugin = {
  id: "redCircles",
  afterDatasetsDraw(chart: any) {
    const { ctx, scales } = chart;
    ctx.save();
    ctx.strokeStyle = "#ff0000";
    ctx.lineWidth = 4;
    circleDates.forEach((d, i) => {
      ctx.beginPath();
      ctx.arc(scales.x.getPixelForValue(dayOf(d)), scales.y.getPixelForValue(circleValues[i]), 42, 0, Math.PI * 2);
      ctx.stroke();
    });
    ctx.restore();
  },
};

const yearLabelPlugin = {
  id: "yearLabels",
  afterDraw(chart: any) {
    const { ctx, scales, chartArea } = chart;
    ctx.save();
    ctx.font = `25px ${FONT}`;
    ctx.fillStyle = "#000";
    ctx.textAlign = "center";
    ctx.textBaseline = "middle";
    yearTickDates.forEach((d, i) => {
      ctx.fillText(yearTickText[i], scales.x.getPixelForValue(dayOf(d)) + 12, chartArea.bottom + 60);
    });
    ctx.restore();
  },
};

export default function App() {
  const canvasRef = useRef<HTMLCanvasElement>(null);

  useEffect(() => {
    const lineSets: [number, Pt[]][] = [
      [8, sanseiLine], [3, dppLine], [2, cdpLine], [4, ishinLine], [5, reiwaLine], [6, jcpLine], [1, komeiLine], [9, hoshuLine], [10, miraiLine], [7, shaminLine], [11, minnaLine],
    ];
    const pollSets: [number, Poll[]][] = [
      [2, cdpPolls], [4, ishinPolls], [3, dppPolls], [1, komeiPolls], [5, reiwaPolls], [6, jcpPolls], [8, sanseiPolls], [7, shaminPolls], [9, hoshuPolls],
    ];

    const datasets: any[] = lineSets.map(([p, pts], i) => ({
      type: "line",
      label: partyNames[p],
      data: pts.map(([d, v]) => ({ x: dayOf(d), y: v })),
      borderColor: partyColors[p],
      backgroundColor: partyColors[p],
      borderWidth: 4,
      pointRadius: 0,
      cubicInterpolationMode: "monotone",
      spanGaps: false,
      fill: false,
      borderCapStyle: "round",
      borderJoinStyle: "round",
      order: i,
    }));

    pollSets.forEach(([p, polls]) => {
      const col = rgba(partyColors[p], 0.3);
      const orgAt = (c: any) => (c && c.dataIndex !== undefined && polls[c.dataIndex] ? polls[c.dataIndex][2] : 0);
      datasets.push({
        type: "scatter",
        label: partyNames[p] + " polls",
        data: polls.map(([d, v]) => ({ x: dayOf(d), y: v })),
        pointStyle: (c: any) => {
          const s = orgStyle[orgAt(c)];
          return s === "bowtie" || s === "hourglass" || s === "nikkei" ? customMarker(s, col) : s;
        },
        pointRotation: (c: any) => orgRotation[orgAt(c)],
        pointRadius: 4.3,
        pointBackgroundColor: col,
        pointBorderColor: col,
        pointBorderWidth: (c: any) => (strokeOnly.includes(orgStyle[orgAt(c)]) ? 2 : 0.5),
        order: 50,
      });
    });

    const chart = new Chart(canvasRef.current!, {
      type: "line",
      data: { datasets },
      options: {
        animation: false,
        responsive: false,
        maintainAspectRatio: false,
        events: [],
        layout: { padding: { left: 0, top: 60, right: 243, bottom: 137 } },
        plugins: { legend: { display: false }, tooltip: { enabled: false }, title: { display: false } },
        scales: {
          x: {
            type: "linear",
            min: dayOf(X_START),
            max: dayOf(X_END),
            afterBuildTicks: (s: any) => { s.ticks = tickDays.map((v) => ({ value: v })); },
            afterFit: (s: any) => { s.height = 70; },
            grid: { color: "#ebebeb", lineWidth: 1, tickColor: "#b4b4b4", tickLength: 10, drawTicks: true },
            border: { display: true, color: "#b4b4b4", width: 1 },
            ticks: {
              autoSkip: false,
              maxRotation: 0,
              minRotation: 0,
              padding: 13,
              color: "#000",
              font: { family: FONT, size: 23, lineHeight: 1.1 },
              callback: (v: any) => {
                const i = tickDays.indexOf(Number(v));
                if (i < 0) return "";
                return `${Number(tickDates[i].slice(5, 7))} 月`;
              },
            },
          },
          y: {
            type: "linear",
            min: Y_MIN,
            max: Y_MAX,
            afterFit: (s: any) => { s.width = 63; },
            grid: { color: "#ebebeb", lineWidth: 1, tickColor: "#b4b4b4", tickLength: 11 },
            border: { display: true, color: "#bdbdbd", width: 1 },
            ticks: { stepSize: 1, padding: 8, color: "#000", font: { family: FONT, size: 25 } },
          },
        },
      },
      plugins: [circlePlugin, yearLabelPlugin],
    } as any);
    return () => chart.destroy();
  }, []);

  const legendBox = (top: number, title: string, height: number, headerH: number, children: any) => (
    <div style={{ position: "absolute", left: 990, top, width: 197, height, boxSizing: "border-box", border: "1px solid #c4c4c4", background: "#fff" }}>
      <div style={{ height: headerH, boxSizing: "border-box", borderBottom: "1px solid #c4c4c4", background: "#efefef", display: "flex", alignItems: "center", justifyContent: "center", fontSize: 26, color: "#111" }}>{title}</div>
      {children}
    </div>
  );

  const logoChars: [string, number, number, number, string, string][] = [
    ["み", 10, 22, 54, "#f8b4de", "#de6fb4"],
    ["ら", 60, 27, 44, "#fddc8e", "#e59f3a"],
    ["プ", 92, 16, 56, "#c4ef8a", "#6cbe38"],
    ["ロ", 148, 24, 50, "#b0e6f8", "#3caedb"],
  ];

  return (
    <div style={{ position: "absolute", left: 0, top: 0, width: 1200, height: 980, background: "#fff", overflow: "hidden", fontFamily: FONT }}>
      <canvas ref={canvasRef} width={1200} height={980} style={{ position: "absolute", left: 0, top: 0, width: 1200, height: 980 }} />

      <div style={{ position: "absolute", left: 0, top: 10, width: 1058, textAlign: "center", fontSize: 33, lineHeight: "36px", letterSpacing: 3, color: "#111" }}>政党支持率</div>
      <div style={{ position: "absolute", left: 11, top: 12, fontSize: 20, lineHeight: "24px", color: "#111" }}>(%)</div>

      {legendBox(58, "平均", 348, 40,
        partyNames.map((n, i) => (
          <div key={n} style={{ position: "absolute", left: 0, top: 42 + i * 23.3, height: 23, width: 195 }}>
            <div style={{ position: "absolute", left: 9, top: 9.5, width: 60, height: 4.5, background: partyColors[i] }} />
            <div style={{ position: "absolute", left: 78, top: 0, fontSize: 18.5, lineHeight: "23px", letterSpacing: -1, color: "#222", whiteSpace: "nowrap" }}>{n}</div>
          </div>
        ))
      )}

      {legendBox(429, "調査社", 348, 39,
        pollsters.map((n, i) => (
          <div key={n} style={{ position: "absolute", left: 7, top: 42 + i * 23.25, height: 23, width: 188 }}>
            <div style={{ position: "absolute", left: 0, top: 1.5 }}><LegendMarker org={i} /></div>
            <div style={{ position: "absolute", left: 68, top: 0, fontSize: 18, lineHeight: "23px", letterSpacing: -0.8, color: "#222", whiteSpace: "nowrap" }}>{n}</div>
          </div>
        ))
      )}

      {tagNames.map((t, i) => {
        const tops = [144, 178, 213, 438, 486, 520, 551, 624, 657, 718];
        const c = partyColors[tagParty[i]];
        return (
          <div key={t} style={{ position: "absolute", left: 885, top: tops[i], width: 75, height: i === 5 ? 30 : 32, boxSizing: "border-box", border: `3px solid ${c}`, borderRadius: 6, background: rgba(c, 0.22), display: "flex", alignItems: "center", justifyContent: "center", fontSize: t.length > 2 ? 22 : 23.5, color: "#111", whiteSpace: "nowrap" }}>{t}</div>
        );
      })}

      <div style={{ position: "absolute", left: 27, top: 857, width: 586, height: 111, boxSizing: "border-box", border: "1px solid #dadada", padding: "6px 0 0 6px" }}>
        {noteLines.map((l) => (
          <div key={l} style={{ fontSize: 16, lineHeight: "19px", letterSpacing: -0.9, color: "#8a8a8a", whiteSpace: "nowrap" }}>{l}</div>
        ))}
      </div>

      <div style={{ position: "absolute", left: 627, top: 857, width: 332, height: 111, boxSizing: "border-box", border: "1px solid #dadada", padding: "8px 0 0 12px", color: "#8a8a8a" }}>
        <div style={{ fontSize: 16, lineHeight: "19px", letterSpacing: -1.1, whiteSpace: "nowrap" }}>{contactTitle}</div>
        <div style={{ height: 17 }} />
        {contactLinks.map((l) => (
          <div key={l} style={{ fontSize: 17.5, lineHeight: "18.5px", letterSpacing: -0.2, whiteSpace: "nowrap" }}>{l}</div>
        ))}
      </div>

      <div style={{ position: "absolute", left: 990, top: 856, width: 205, height: 92 }}>
        <div style={{ position: "absolute", left: 96, top: 8, width: 18, height: 12, borderRadius: "50%", background: "#9ad850", transform: "rotate(25deg)" }} />
        <div style={{ position: "absolute", left: 112, top: 3, width: 20, height: 13, borderRadius: "50%", background: "#8bd240", transform: "rotate(-20deg)" }} />
        <div style={{ position: "absolute", left: 111, top: 16, width: 3, height: 12, background: "#8bd240" }} />
        {logoChars.map(([ch, l, t, fs, fill, stroke]) => (
          <div key={ch} style={{ position: "absolute", left: l, top: t, fontSize: fs, lineHeight: 1, fontWeight: 700, fontFamily: '"Noto Sans CJK JP", sans-serif', color: fill, WebkitTextStroke: `2px ${stroke}`, textShadow: "1px 2px 2px rgba(0,0,0,0.15)" }}>{ch}</div>
        ))}
      </div>
    </div>
  );
}
